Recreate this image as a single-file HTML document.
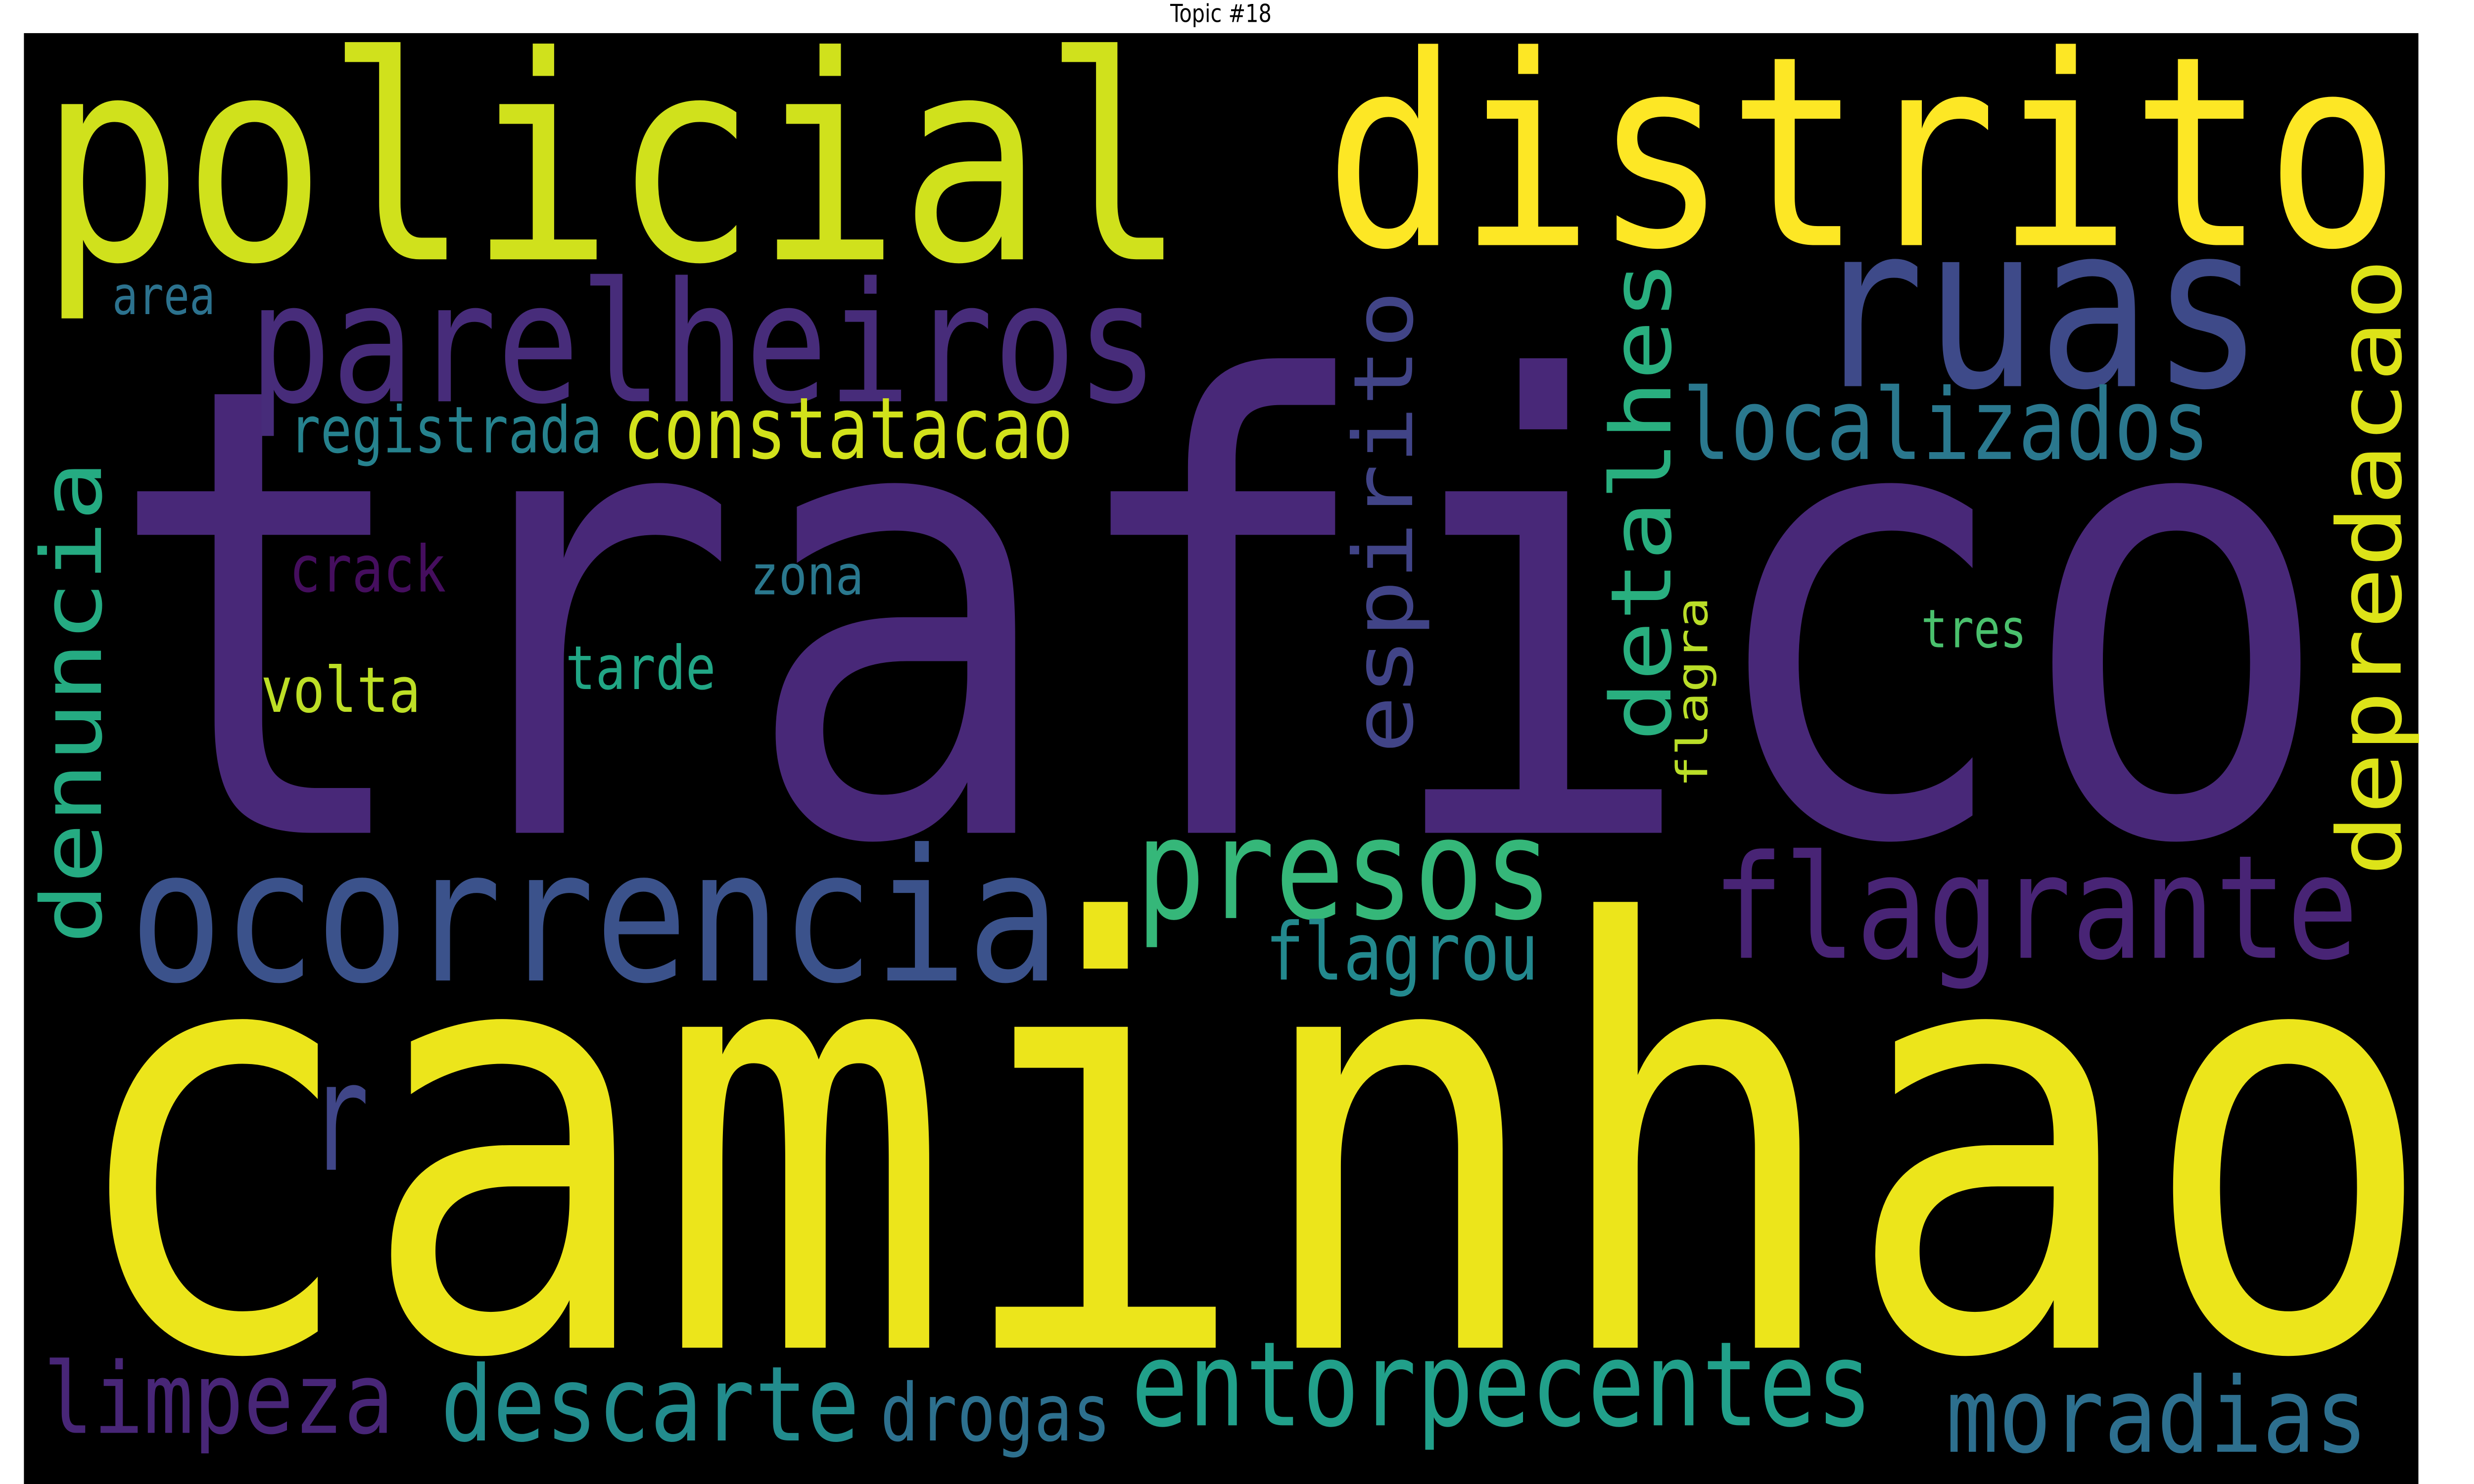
<!DOCTYPE html>
<html><head><meta charset="utf-8">
<style>
html,body{margin:0;padding:0;background:#fff;width:100%;height:100%;overflow:hidden;}
svg{display:block;position:fixed;left:0;top:0;width:100vw;height:100vh;}
</style></head>
<body>
<svg id="cloud" viewBox="0 0 1568 784" preserveAspectRatio="none" xmlns="http://www.w3.org/2000/svg">
  <rect x="0" y="0" width="1568" height="784" fill="#ffffff"/>
  <text x="773.8" y="11.6" font-family="DejaVu Sans, Liberation Sans, sans-serif" font-size="13" text-anchor="middle" fill="#000">Topic #18</text>
  <rect x="15.16" y="17.5" width="1517.6" height="767" fill="#000000"/>
  <g id="words"></g>
</svg>
<script>
// Words and their font sizes (weights)
const words = ["trafico","caminhao","policial","distrito","ruas","parelheiros","ocorrencia","presos","flagrante","localizados","constatacao","registrada","area","crack","zona","volta","tarde","tres","flagrou","r","limpeza","descarte","drogas","entorpecentes","moradias","denuncia","espirito","detalhes","depredacao","flagra"];
const sizes = [330,310,150,140,120,88,97,74,76,52,45,34,28,34,29,33,32,28,42,80,52,55,42,62,55,53,52,53,56,27];
const colors = ["#482878","#ece51b","#d0e11c","#fde725","#3e4a89","#472c7a","#3b528b","#35b779","#482475","#2a788e","#d2e21b","#26828e","#2c728e","#450e5e","#2a788e","#bddf26","#21a685","#4ac16d","#23898e","#404688","#482677","#228c8d","#2d708e","#21a08a","#2d6f8e","#25ab82","#414487","#29af7f","#dde318","#bade28"];
const rot = [0,0,0,0,0,0,0,0,0,0,0,0,0,0,0,0,0,0,0,0,0,0,0,0,0,1,1,1,1,1];
// layout: ink start (left, or bottom for vertical), baseline, ink length
const inkStart = [82,55,32.5,846.5,1154,162,87,723.6,1089,1069,397,185,72.5,185,477,167,360,1219,804,200,30,282,560,720,1236,496,395.5,389,460,414.7];
const baseline = [440,712,137,129.5,204,212,518,485,506,242.5,242,239,166,312.5,314,376,364,342,517.5,618,757,761,761,753,767,64,895,1058.7,1521.5,1082];
const inkLen = [1382,1474,712,667.5,275,568,580,257,402,329,281,195,62.5,96,69,98,92,64,169,30,217,260,142,464,262,250,239.5,249,320.6,98];

const g = document.getElementById('words');
const NS = 'http://www.w3.org/2000/svg';
for (let i = 0; i < words.length; i++) {
  const fs = sizes[i];
  const t = document.createElementNS(NS, 'text');
  
  
  t.setAttribute('font-family', 'DejaVu Sans Mono, Liberation Mono, monospace');
  t.setAttribute('font-size', fs);
  t.setAttribute('fill', colors[i]);
  t.setAttribute('textLength', inkLen[i] + 0.1 * fs);
  t.setAttribute('lengthAdjust', 'spacingAndGlyphs');
  t.textContent = words[i];
  if (!rot[i]) {
    t.setAttribute('x', inkStart[i] - 0.05 * fs);
    t.setAttribute('y', baseline[i]);
  } else {
    const x = baseline[i], y = inkStart[i] + 0.05 * fs;
    t.setAttribute('x', x);
    t.setAttribute('y', y);
    t.setAttribute('transform', 'rotate(-90 ' + x + ' ' + y + ')');
  }
  g.appendChild(t);
}
</script>
</body></html>
